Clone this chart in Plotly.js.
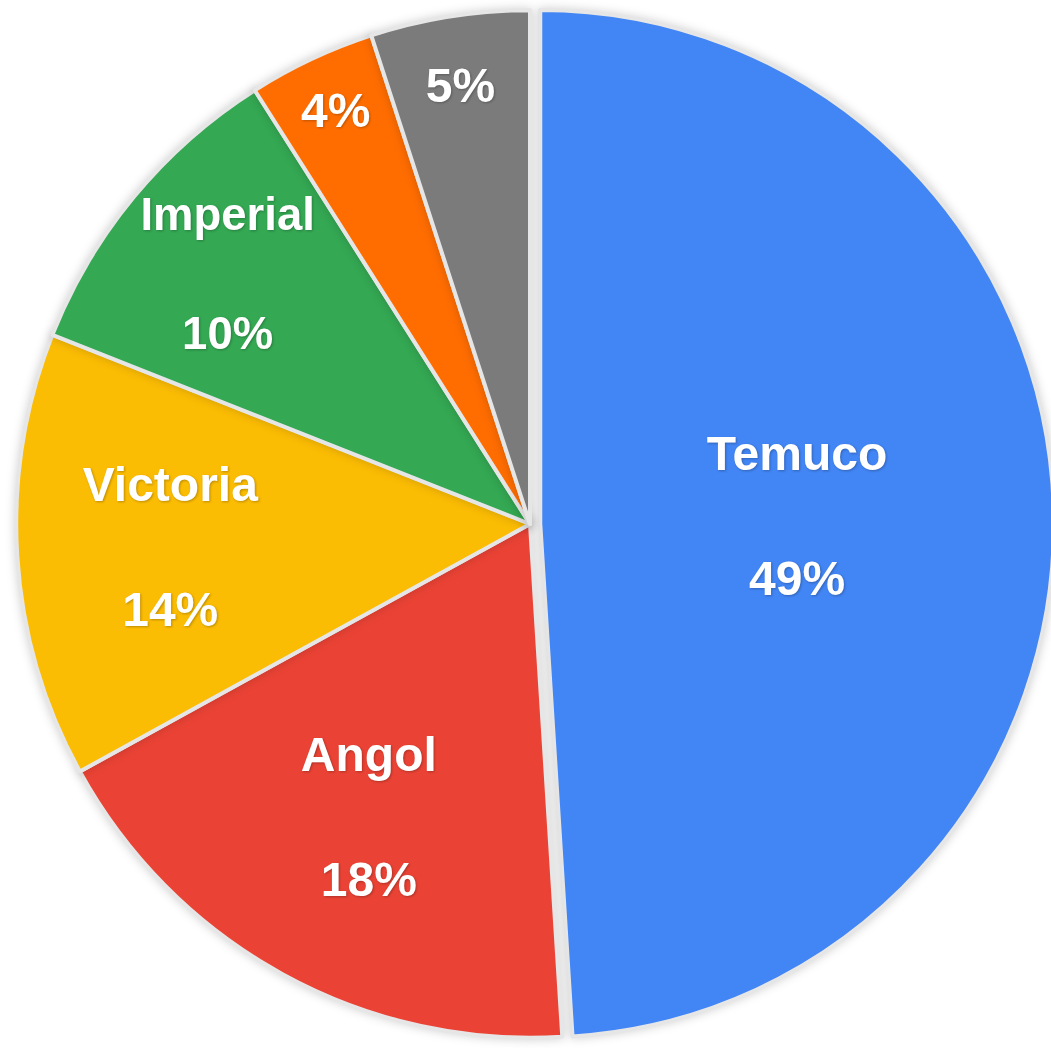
<!DOCTYPE html>
<html>
<head>
<meta charset="utf-8">
<script src="https://cdn.plot.ly/plotly-3.0.1.min.js"></script>
<style>
  html, body { margin: 0; padding: 0; background: #ffffff; overflow: hidden; }
  #chart { width: 1060px; height: 1048px; }
  .pielayer .slice path.surface { filter: drop-shadow(0px 0px 5px rgba(0,0,0,0.18)); }
  .pielayer .slice text { filter: drop-shadow(1px 1px 1px rgba(0,0,0,0.25)); }
</style>
</head>
<body>
<div id="chart"></div>
<script>
// Data
const labels = ["Temuco", "Angol", "Victoria", "Imperial", "Otra 1", "Otra 2"];
const values = [49, 18, 14, 10, 4, 5];
const colors = ["#4285F4", "#EA4335", "#FBBC04", "#34A853", "#FF6D01", "#7B7B7B"];
const showName = [true, true, true, true, false, false];
const pulls = [0.02, 0, 0, 0, 0, 0];

const templates = showName.map(s => s
  ? "<b>%{label}</b><br><span style='font-size:26px'>&nbsp;</span><br><b>%{percent:.0%}</b>"
  : "<b>%{percent:.0%}</b>");

const trace = {
  type: "pie",
  labels: labels,
  values: values,
  sort: false,
  direction: "clockwise",
  rotation: 0,
  pull: pulls,
  marker: { colors: colors, line: { color: "#E6E6E6", width: 4 } },
  texttemplate: templates,
  textposition: "inside",
  insidetextorientation: "horizontal",
  insidetextfont: { family: "Arial, 'Liberation Sans', sans-serif", size: 48, color: "#ffffff" },
  hoverinfo: "label+percent",
  showlegend: false
};

const layout = {
  width: 1060,
  height: 1048,
  margin: { l: 0, r: 0, t: 0, b: 0 },
  paper_bgcolor: "#ffffff",
  plot_bgcolor: "#ffffff",
  showlegend: false
};

Plotly.newPlot("chart", [trace], layout, { displayModeBar: false, staticPlot: true });
</script>
</body>
</html>
